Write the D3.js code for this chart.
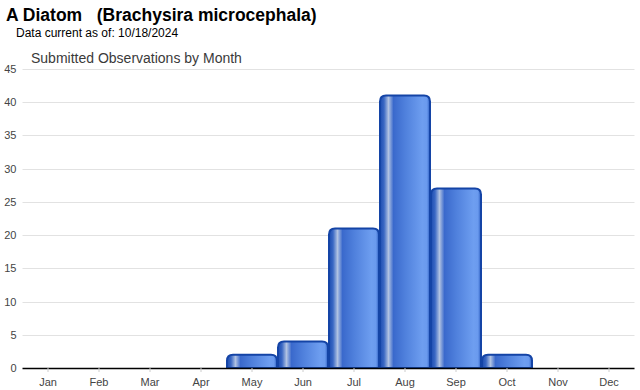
<!DOCTYPE html>
<html><head><meta charset="utf-8">
<script src="https://cdn.jsdelivr.net/npm/d3@7"></script>
<style>body{margin:0;background:#fff;}svg{display:block;}</style>
</head><body>
<script>
const months = ["Jan","Feb","Mar","Apr","May","Jun","Jul","Aug","Sep","Oct","Nov","Dec"];
const counts = [0,0,0,0,2,4,21,41,27,2,0,0];
const yTicks = [0,5,10,15,20,25,30,35,40,45];
const titleText = "A Diatom\u00a0\u00a0\u00a0(Brachysira microcephala)";
const subtitleText = "Data current as of: 10/18/2024";
const chartTitle = "Submitted Observations by Month";

(function(){
const W = 640, H = 390;
const svg = d3.select("body").append("svg").attr("width", W).attr("height", H);
const pl = 22.5, pr = 634.5, pt = 69, pb = 368;

const defs = svg.append("defs");
const g = defs.append("linearGradient").attr("id","barGrad").attr("x1","0").attr("x2","1").attr("y1","0").attr("y2","0");
[[0,"#1c4cb0"],[0.08,"#3a68c4"],[0.17,"#b0c2e2"],[0.27,"#3a69cc"],[0.5,"#4f80dc"],[0.85,"#6e9ef0"],[0.94,"#6a9aee"],[1,"#2a5cc0"]]
  .forEach(([o,c]) => g.append("stop").attr("offset",o).attr("stop-color",c));

const x = d3.scaleBand().domain(months).range([pl,pr]).paddingInner(0).paddingOuter(0);
const y = d3.scaleLinear().domain([0,45]).range([pb,pt]);

svg.append("text").attr("x",6).attr("y",21).attr("font-family","Liberation Sans, Arial, sans-serif")
  .attr("font-weight","bold").attr("font-size",17.5).attr("fill","#000").text(titleText);
svg.append("text").attr("x",16).attr("y",37).attr("font-family","Liberation Sans, Arial, sans-serif")
  .attr("font-size",12).attr("fill","#000").text(subtitleText);
svg.append("text").attr("x",31).attr("y",63).attr("font-family","Liberation Sans, Arial, sans-serif")
  .attr("font-size",14).attr("fill","#3a3a3a").text(chartTitle);

svg.append("g").selectAll("line").data(yTicks.filter(d=>d>0)).join("line")
  .attr("x1",pl).attr("x2",pr).attr("y1",d=>Math.round(y(d))+0.5).attr("y2",d=>Math.round(y(d))+0.5)
  .attr("stroke","#e2e2e2").attr("stroke-width",1);

const yAxis = d3.axisLeft(y).tickValues(yTicks).tickSize(0).tickPadding(0);
const ya = svg.append("g").attr("transform",`translate(${pl-6},0)`).call(yAxis);
ya.select(".domain").remove();
ya.selectAll("text").attr("font-family","Liberation Sans, Arial, sans-serif").attr("font-size",11).attr("fill","#444");

const bw = x.bandwidth(), gap = 0.5, r = 6;
function barPath(d){
  const x0 = x(d.m)+gap, x1 = x(d.m)+bw-gap, y0 = y(d.v), y1 = y(0);
  const rr = Math.min(r, (y1-y0));
  return `M${x0},${y1} L${x0},${y0+rr} Q${x0},${y0} ${x0+rr},${y0} L${x1-rr},${y0} Q${x1},${y0} ${x1},${y0+rr} L${x1},${y1} Z`;
}
svg.append("g").selectAll("path").data(months.map((m,i)=>({m, v:counts[i]})).filter(d=>d.v>0)).join("path")
  .attr("d",barPath).attr("fill","url(#barGrad)").attr("stroke","#1444a6").attr("stroke-width",2);

const xAxis = d3.axisBottom(x).tickSize(4).tickPadding(6);
const xa = svg.append("g").attr("transform",`translate(0,${pb})`).call(xAxis);
xa.select(".domain").attr("stroke","#000").attr("stroke-width",1.5).attr("d",`M${pl},0.5H${pr}`);
xa.selectAll(".tick line").attr("stroke","#ccc");
xa.selectAll("text").attr("font-family","Liberation Sans, Arial, sans-serif").attr("font-size",11).attr("fill","#444");
})();
</script>
</body></html>
